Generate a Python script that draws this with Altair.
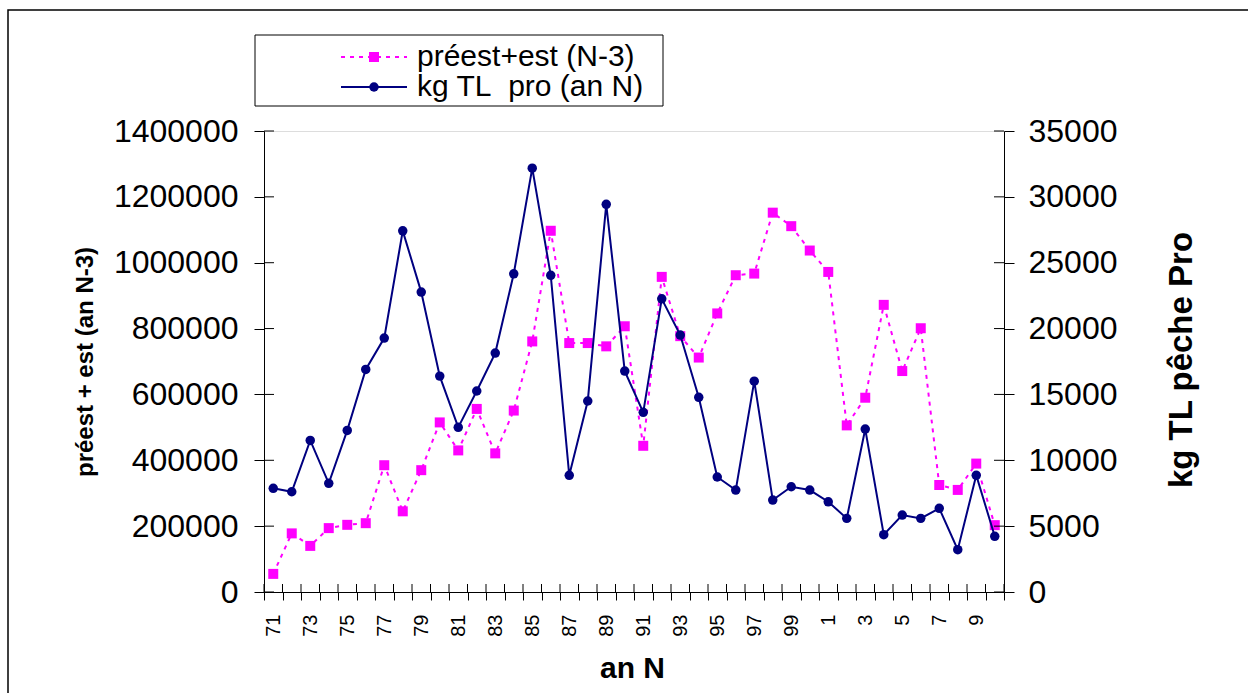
import altair as alt
import pandas as pd

years = ["71", "72", "73", "74", "75", "76", "77", "78", "79", "80",
         "81", "82", "83", "84", "85", "86", "87", "88", "89", "90",
         "91", "92", "93", "94", "95", "96", "97", "98", "99", "0",
         "1", "2", "3", "4", "5", "6", "7", "8", "9", "10"]
preest = [55000, 178000, 140000, 194000, 204000, 209000, 385000, 245000, 370000, 515000,
          430000, 556000, 421000, 551000, 761000, 1097000, 756000, 756000, 746000, 807000,
          444000, 957000, 777000, 712000, 846000, 962000, 967000, 1152000, 1111000, 1037000,
          972000, 506000, 590000, 872000, 671000, 801000, 325000, 310000, 390000, 203000]
kg = [7870, 7610, 11510, 8250, 12270, 16900, 19280, 27420, 22770, 16390,
      12500, 15260, 18140, 24160, 32180, 24040, 8860, 14500, 29430, 16770,
      13640, 22260, 19510, 14780, 8730, 7740, 16010, 6980, 7990, 7740,
      6850, 5590, 12370, 4350, 5840, 5590, 6350, 3210, 8860, 4230]
left_ticks = [0, 200000, 400000, 600000, 800000, 1000000, 1200000, 1400000]
right_ticks = [0, 5000, 10000, 15000, 20000, 25000, 30000, 35000]
series_names = ["préest+est (N-3)", "kg TL\u00a0 pro (an N)"]
left_title = "préest + est (an N-3)"
right_title = "kg TL pêche Pro"
x_title = "an N"

PINK = "#FF00FF"
NAVY = "#000080"
FONT = "Liberation Sans"
W, H = 740, 461

df = pd.DataFrame({"an": years, "preest": preest, "kg": kg})
dl = pd.DataFrame({"v": left_ticks})
dr = pd.DataFrame({"v": right_ticks})
one = pd.DataFrame({"a": [0]})

x_scale = alt.Scale(type="band", paddingInner=0, paddingOuter=0)
x_axis = alt.Axis(title=x_title, tickBand="extent", labelAngle=270, labelAlign="right",
                  labelBaseline="middle", labelFontSize=20, labelPadding=14, tickSize=8,
                  labelExpr="toNumber(datum.value) % 2 == 1 ? datum.value : ''",
                  labelOverlap=False, labelFlush=False, labelBound=False,
                  domainColor="black", tickColor="black", labelColor="black",
                  titleFontSize=30, titleFontWeight="bold", titleX=368, titleY=76,
                  titleBaseline="middle", titleAlign="center", grid=False)
X = alt.X("an:N", sort=years, scale=x_scale, axis=x_axis)

left_scale = alt.Scale(domain=[0, 1400000], nice=False, zero=True)
right_scale = alt.Scale(domain=[0, 35000], nice=False, zero=True)
left_axis = alt.Axis(title=left_title, orient="left", values=left_ticks, format="d",
                     labelFontSize=32, tickSize=10, labelPadding=16, grid=False,
                     domainColor="black", tickColor="black", labelColor="black",
                     titleFontSize=24, titleFontWeight="bold", titleAngle=270,
                     titleX=-179, titleY=H / 2, titleAlign="center", titleBaseline="middle")
right_axis = alt.Axis(title=right_title, orient="right", values=right_ticks, format="d",
                      labelFontSize=32, tickSize=10, labelPadding=14, grid=False,
                      domainColor="black", tickColor="black", labelColor="black",
                      titleFontSize=33, titleFontWeight="bold", titleAngle=270,
                      titleX=177, titleY=H / 2 - 2, titleAlign="center", titleBaseline="middle")

base = alt.Chart(df)
pink_line = base.mark_line(color=PINK, strokeWidth=2, strokeDash=[4, 5]).encode(
    x=X, y=alt.Y("preest:Q", scale=left_scale, axis=left_axis))
pink_pts = base.mark_point(shape="square", filled=True, size=100, opacity=1, color=PINK).encode(
    x=X, y=alt.Y("preest:Q", scale=left_scale, axis=left_axis))
left_inner = alt.Chart(dl).mark_rule(color="black", strokeWidth=1).encode(
    y=alt.Y("v:Q", scale=left_scale, axis=left_axis), x=alt.value(0), x2=alt.value(10))
x_inner = base.mark_rule(color="black", strokeWidth=1).encode(
    x=alt.X("an:N", sort=years, scale=x_scale, axis=x_axis, bandPosition=0),
    y=alt.value(H - 8), y2=alt.value(H))
x_inner_end = alt.Chart(one).mark_rule(color="black", strokeWidth=1).encode(
    x=alt.value(W), y=alt.value(H - 8), y2=alt.value(H))
pink_group = alt.layer(left_inner, x_inner, pink_line, pink_pts)

navy_line = base.mark_line(color=NAVY, strokeWidth=2).encode(
    x=X, y=alt.Y("kg:Q", scale=right_scale, axis=right_axis))
navy_pts = base.mark_point(shape="circle", filled=True, size=90, opacity=1, color=NAVY).encode(
    x=X, y=alt.Y("kg:Q", scale=right_scale, axis=right_axis))
right_inner = alt.Chart(dr).mark_rule(color="black", strokeWidth=1).encode(
    y=alt.Y("v:Q", scale=right_scale, axis=right_axis), x=alt.value(W - 10), x2=alt.value(W))
navy_group = alt.layer(right_inner, navy_line, navy_pts)

# outer frame
frame = alt.Chart(one).mark_rect(filled=False, stroke="black", strokeWidth=1.5).encode(
    x=alt.value(-256), x2=alt.value(1000), y=alt.value(-121), y2=alt.value(580))

# legend
leg_box = alt.Chart(one).mark_rect(fill="white", stroke="black", strokeWidth=1).encode(
    x=alt.value(-9), x2=alt.value(399), y=alt.value(-96), y2=alt.value(-25))
leg_l1 = alt.Chart(one).mark_rule(color=PINK, strokeWidth=2, strokeDash=[4, 5]).encode(
    x=alt.value(77), x2=alt.value(143), y=alt.value(-74))
leg_p1 = alt.Chart(one).mark_point(shape="square", filled=True, size=100, opacity=1, color=PINK).encode(
    x=alt.value(110), y=alt.value(-74))
leg_t1 = alt.Chart(one).mark_text(text=series_names[0], align="left", baseline="middle",
                                  fontSize=30, font=FONT, color="black").encode(
    x=alt.value(153), y=alt.value(-74))
leg_l2 = alt.Chart(one).mark_rule(color=NAVY, strokeWidth=2).encode(
    x=alt.value(77), x2=alt.value(143), y=alt.value(-44))
leg_p2 = alt.Chart(one).mark_point(shape="circle", filled=True, size=90, opacity=1, color=NAVY).encode(
    x=alt.value(110), y=alt.value(-44))
leg_t2 = alt.Chart(one).mark_text(text=series_names[1], align="left", baseline="middle",
                                  fontSize=30, font=FONT, color="black").encode(
    x=alt.value(153), y=alt.value(-44))
legend = alt.layer(leg_box, leg_l1, leg_p1, leg_t1, leg_l2, leg_p2, leg_t2)

chart = alt.layer(frame, pink_group, navy_group, x_inner_end, legend).resolve_scale(
    y="independent"
).properties(
    width=W, height=H,
    padding={"left": 264, "top": 131, "right": 244, "bottom": 101},
    autosize=alt.AutoSizeParams(type="none"),
    background="white",
).configure_view(
    stroke="#808080", strokeWidth=1
).configure(font=FONT)

chart.save("out.html", embed_options={"renderer": "svg", "actions": False})
